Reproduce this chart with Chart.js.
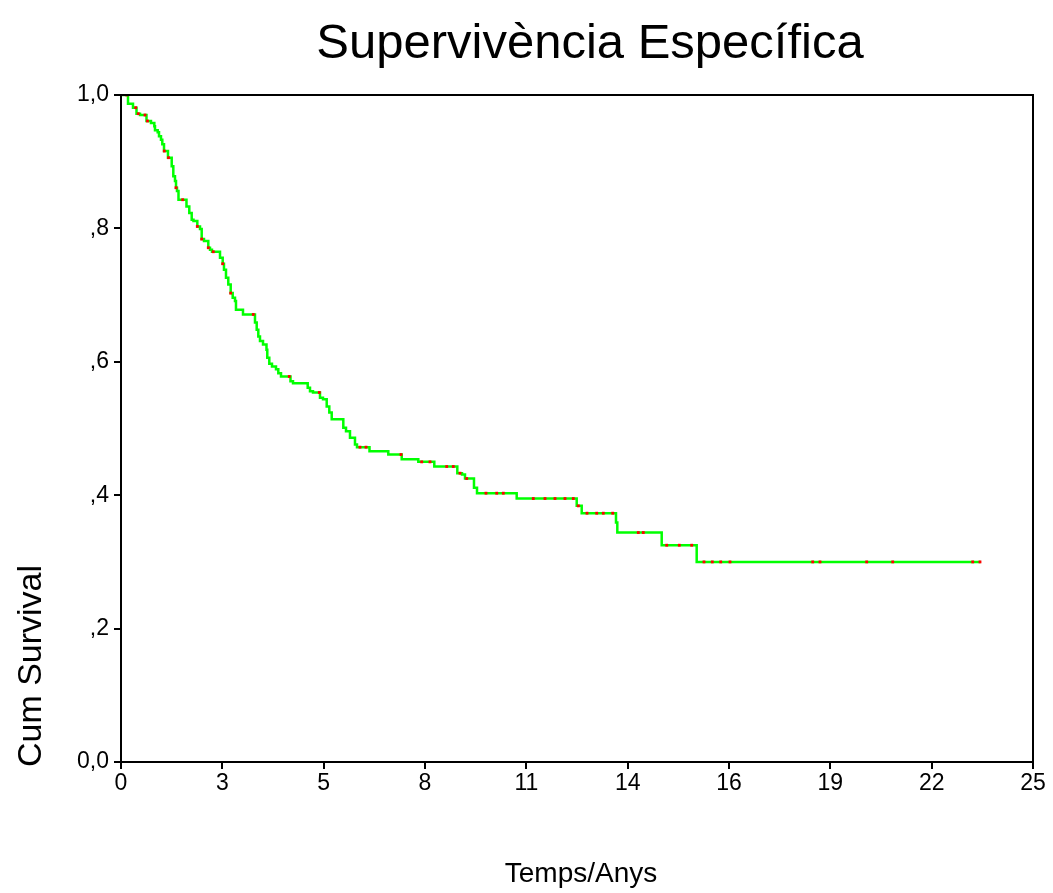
<!DOCTYPE html>
<html>
<head>
<meta charset="utf-8">
<script src="https://cdn.jsdelivr.net/npm/chart.js@4.4.1/dist/chart.umd.min.js"></script>
<style>
  html, body { margin: 0; padding: 0; background: #ffffff; }
  canvas { display: block; }
</style>
</head>
<body>
<canvas id="km" width="1053" height="893"></canvas>
<script>
// Kaplan-Meier estimate: times (years) at which deaths occur and the survival after each step
const eventTimes = [
  0.192, 0.329, 0.425, 0.521, 0.699, 0.822, 0.913, 0.932, 1.006, 1.042,
  1.096, 1.132, 1.179, 1.288, 1.390, 1.434, 1.480, 1.508, 1.535, 1.576,
  1.795, 1.872, 1.938, 1.987, 2.092, 2.166, 2.212, 2.275, 2.393, 2.440,
  2.494, 2.714, 2.788, 2.823, 2.878, 2.941, 3.007, 3.062, 3.125, 3.152,
  3.344, 3.673, 3.720, 3.764, 3.810, 3.893, 3.988, 4.010, 4.065, 4.139,
  4.249, 4.312, 4.386, 4.646, 4.715, 5.118, 5.181, 5.263, 5.455, 5.537,
  5.639, 5.710, 5.776, 6.094, 6.168, 6.277, 6.414, 6.469, 6.812, 7.327,
  7.695, 8.150, 8.588, 9.219, 9.348, 9.430, 9.676, 9.759, 10.847, 12.492,
  12.629, 13.569, 13.605, 14.822, 15.781
];
const survival = [
  0.987, 0.981, 0.972, 0.970, 0.961, 0.958, 0.953, 0.947, 0.944, 0.938,
  0.933, 0.926, 0.916, 0.906, 0.893, 0.878, 0.871, 0.861, 0.856, 0.843,
  0.833, 0.823, 0.813, 0.811, 0.803, 0.799, 0.784, 0.781, 0.771, 0.768,
  0.765, 0.756, 0.747, 0.738, 0.726, 0.716, 0.703, 0.696, 0.691, 0.678,
  0.671, 0.659, 0.648, 0.638, 0.631, 0.626, 0.618, 0.606, 0.597, 0.593,
  0.589, 0.583, 0.578, 0.571, 0.568, 0.561, 0.556, 0.554, 0.546, 0.544,
  0.533, 0.524, 0.514, 0.501, 0.496, 0.486, 0.476, 0.472, 0.466, 0.461,
  0.454, 0.450, 0.443, 0.433, 0.431, 0.425, 0.411, 0.403, 0.395, 0.384,
  0.373, 0.359, 0.344, 0.325, 0.300
];
// Censored observations (years)
const censorTimes = [
  0.156, 0.403, 0.474, 0.658, 0.726, 1.187, 1.302, 1.508, 1.691, 2.092,
  2.212, 2.393, 2.530, 2.788, 3.007, 3.627, 4.613, 5.436, 6.551, 6.716,
  7.675, 8.243, 8.470, 8.928, 9.109, 9.293, 9.476, 10.005, 10.299, 10.480,
  11.302, 11.623, 11.897, 12.171, 12.399, 12.536, 12.774, 13.040, 13.221, 13.479,
  14.180, 14.317, 14.959, 15.304, 15.644, 15.981, 16.209, 16.439, 16.694, 18.961,
  19.161, 20.441, 21.154, 23.347, 23.547
];
const followUpEnd = 23.56;

const xTickLabels = ['0', '3', '5', '8', '11', '14', '16', '19', '22', '25'];
const yTickLabels = ['0,0', ',2', ',4', ',6', ',8', '1,0'];
const xMax = 25;

const titleText = 'Supervivència Específica';
const xTitleText = 'Temps/Anys';
const yTitleText = 'Cum Survival';

const FONT = '"Liberation Sans", Arial, Helvetica, sans-serif';

// survival level in force at time t
function survivalAt(t) {
  let s = 1;
  for (let i = 0; i < eventTimes.length; i++) {
    if (eventTimes[i] <= t) s = survival[i];
  }
  return s;
}

const curve = [{ x: 0, y: 1 }]
  .concat(eventTimes.map((t, i) => ({ x: t, y: survival[i] })))
  .concat([{ x: followUpEnd, y: survival[survival.length - 1] }]);

const censored = censorTimes.map(t => ({ x: t, y: survivalAt(t) }));

const decorations = {
  id: 'decorations',
  afterDatasetsDraw(chart) {
    const { ctx, chartArea: a } = chart;
    ctx.save();
    ctx.strokeStyle = '#000000';
    ctx.lineWidth = 2;
    ctx.strokeRect(a.left, a.top, a.right - a.left, a.bottom - a.top);
    ctx.restore();
  },
  afterDraw(chart) {
    const { ctx } = chart;
    ctx.save();
    ctx.fillStyle = '#000000';
    ctx.textAlign = 'center';
    ctx.textBaseline = 'alphabetic';
    ctx.font = '49px ' + FONT;
    ctx.fillText(titleText, 590, 58);
    ctx.font = '28px ' + FONT;
    ctx.fillText(xTitleText, 581, 882);
    ctx.font = '34px ' + FONT;
    ctx.translate(41, 666);
    ctx.rotate(-Math.PI / 2);
    ctx.fillText(yTitleText, 0, 0);
    ctx.restore();
  }
};

new Chart(document.getElementById('km'), {
  type: 'line',
  data: {
    datasets: [
      {
        label: 'Survival Function',
        data: curve,
        stepped: 'before',
        borderColor: '#00ff00',
        borderWidth: 2.5,
        pointRadius: 0,
        fill: false,
        order: 2
      },
      {
        label: 'Censored',
        type: 'scatter',
        data: censored,
        pointStyle: 'rect',
        pointRadius: 2,
        backgroundColor: '#ff0000',
        borderColor: '#c00000',
        borderWidth: 0,
        showLine: false,
        order: 1
      }
    ]
  },
  options: {
    responsive: false,
    animation: false,
    events: [],
    layout: { padding: { top: 95, right: 20, left: 0, bottom: 0 } },
    plugins: {
      legend: { display: false },
      tooltip: { enabled: false },
      title: { display: false }
    },
    scales: {
      x: {
        type: 'linear',
        min: 0,
        max: xMax,
        afterBuildTicks(axis) {
          axis.ticks = xTickLabels.map((_, i) => ({ value: i * xMax / (xTickLabels.length - 1) }));
        },
        afterFit(scale) { scale.height = 131; },
        grid: {
          display: true,
          drawOnChartArea: false,
          drawTicks: true,
          tickLength: 7,
          color: '#000000',
          lineWidth: 2
        },
        border: { display: true, color: '#000000', width: 2 },
        ticks: {
          autoSkip: false,
          maxRotation: 0,
          padding: 1,
          color: '#000000',
          font: { family: FONT, size: 23 },
          callback: (v, i) => xTickLabels[i]
        }
      },
      y: {
        type: 'linear',
        min: 0,
        max: 1,
        afterBuildTicks(axis) {
          axis.ticks = yTickLabels.map((_, i) => ({ value: i / (yTickLabels.length - 1) }));
        },
        afterFit(scale) { scale.width = 121; },
        grid: {
          display: true,
          drawOnChartArea: false,
          drawTicks: true,
          tickLength: 7,
          color: '#000000',
          lineWidth: 2
        },
        border: { display: true, color: '#000000', width: 2 },
        ticks: {
          autoSkip: false,
          padding: 5,
          color: '#000000',
          font: { family: FONT, size: 23 },
          callback: (v, i) => yTickLabels[i]
        }
      }
    }
  },
  plugins: [decorations]
});
</script>
</body>
</html>
